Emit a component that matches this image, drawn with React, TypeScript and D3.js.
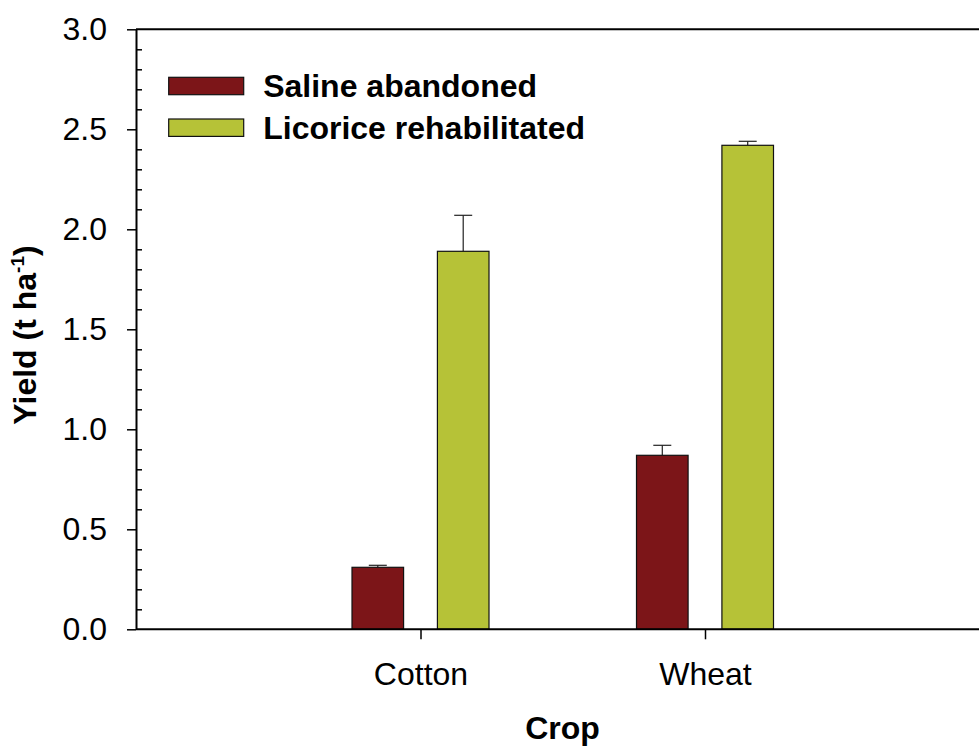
import React, { useEffect, useRef } from 'react';
import * as d3 from 'd3';

// chart data
const crops = ['Cotton', 'Wheat'];
const seriesNames = ['Saline abandoned', 'Licorice rehabilitated'];
const salineYield = [0.31, 0.87];
const salineErr = [0.01, 0.05];
const licoriceYield = [1.89, 2.42];
const licoriceErr = [0.18, 0.02];
const yTicks = [0, 0.5, 1.0, 1.5, 2.0, 2.5, 3.0];

const colors = ['#7C1518', '#B6C237'];
const FONT = '"Liberation Sans", Arial, Helvetica, sans-serif';

const W = 979;
const H = 747;
const margin = { top: 29.3, left: 136 };
const plotH = 600;
const plotW = 853.5;

export default function App() {
  const node = useRef<SVGSVGElement | null>(null);

  useEffect(() => {
    const svg = d3.select(node.current);
    svg.selectAll('*').remove();

    const rows = crops.map((c, i) => ({
      crop: c,
      values: [
        { key: seriesNames[0], value: salineYield[i], err: salineErr[i] },
        { key: seriesNames[1], value: licoriceYield[i], err: licoriceErr[i] },
      ],
    }));

    // scales
    const x = d3.scalePoint<string>().domain(crops).range([0, plotW]).padding(1);
    const inner = d3.scaleBand<string>().domain(seriesNames).range([-68.5, 68.5]).paddingInner(0.396);
    const y = d3.scaleLinear().domain([0, 3]).range([plotH, 0]);
    const z = d3.scaleOrdinal<string, string>().domain(seriesNames).range(colors);

    const g = svg.append('g').attr('transform', `translate(${margin.left},${margin.top})`);

    // bars
    const groups = g.selectAll('.grp').data(rows).enter().append('g')
      .attr('class', 'grp')
      .attr('transform', d => `translate(${x(d.crop)},0)`);

    const bars = groups.selectAll('.bar').data(d => d.values).enter().append('g').attr('class', 'bar');

    // error bars (upper only)
    bars.append('line')
      .attr('x1', d => inner(d.key)! + inner.bandwidth() / 2)
      .attr('x2', d => inner(d.key)! + inner.bandwidth() / 2)
      .attr('y1', d => y(d.value))
      .attr('y2', d => y(d.value + d.err))
      .attr('stroke', '#222').attr('stroke-width', 1.2);
    bars.append('line')
      .attr('x1', d => inner(d.key)! + inner.bandwidth() / 2 - 9)
      .attr('x2', d => inner(d.key)! + inner.bandwidth() / 2 + 9)
      .attr('y1', d => y(d.value + d.err))
      .attr('y2', d => y(d.value + d.err))
      .attr('stroke', '#222').attr('stroke-width', 1.2);

    bars.append('rect')
      .attr('x', d => inner(d.key)!)
      .attr('width', inner.bandwidth())
      .attr('y', d => y(d.value))
      .attr('height', d => plotH - y(d.value))
      .attr('fill', d => z(d.key))
      .attr('stroke', '#111').attr('stroke-width', 1.2);

    // frame top line
    g.append('line')
      .attr('x1', 0).attr('x2', plotW + 20)
      .attr('y1', 0).attr('y2', 0)
      .attr('stroke', '#000').attr('stroke-width', 2);

    // minor y ticks inside
    const minor = d3.range(0, 30).map(v => v / 10).filter(v => Math.round(v * 10) % 5 !== 0);
    g.append('g')
      .call(d3.axisLeft(y).tickValues(minor).tickSize(-6).tickFormat(() => ''))
      .call(a => a.select('.domain').remove())
      .selectAll('line').attr('stroke', '#000').attr('stroke-width', 1.5);

    // y axis
    const yAxis = g.append('g')
      .call(d3.axisLeft(y).tickValues(yTicks).tickSize(9).tickSizeOuter(0).tickPadding(20).tickFormat(d3.format('.1f')));
    yAxis.select('.domain').attr('stroke', '#000').attr('stroke-width', 2);
    yAxis.selectAll('line').attr('stroke', '#000').attr('stroke-width', 1.5);
    yAxis.selectAll('text').style('font-family', FONT).style('font-size', '32px').attr('fill', '#000');

    // x axis
    const xAxis = g.append('g')
      .attr('transform', `translate(0,${plotH})`)
      .call(d3.axisBottom(x).tickSize(10).tickSizeOuter(0).tickPadding(23));
    xAxis.select('.domain').attr('d', `M0,0H${plotW + 20}`).attr('stroke', '#000').attr('stroke-width', 2);
    xAxis.selectAll('line').attr('stroke', '#000').attr('stroke-width', 1.5);
    xAxis.selectAll('text').style('font-family', FONT).style('font-size', '32px').attr('fill', '#000');

    // axis titles
    svg.append('text')
      .attr('x', 562.5).attr('y', 739)
      .attr('text-anchor', 'middle')
      .style('font-family', FONT).style('font-size', '32px').style('font-weight', 'bold')
      .text('Crop');

    const yl = svg.append('text')
      .attr('transform', 'translate(36,335) rotate(-90)')
      .attr('text-anchor', 'middle')
      .style('font-family', FONT).style('font-size', '32px').style('font-weight', 'bold');
    yl.append('tspan').text('Yield (t ha');
    yl.append('tspan').attr('dy', -12).style('font-size', '19px').text('-1');
    yl.append('tspan').attr('dy', 12).text(')');

    // legend
    const legend = svg.selectAll('.legend').data(seriesNames).enter().append('g')
      .attr('class', 'legend')
      .attr('transform', (d, i) => `translate(168.7,${77.3 + i * 41.7})`);
    legend.append('rect')
      .attr('width', 75).attr('height', 17.4)
      .attr('fill', d => z(d)).attr('stroke', '#111').attr('stroke-width', 1.2);
    legend.append('text')
      .attr('x', 94.5).attr('y', 20)
      .style('font-family', FONT).style('font-size', '32px').style('font-weight', 'bold')
      .text(d => d);
  }, []);

  return (
    <svg ref={node} width={W} height={H}
      style={{ position: 'absolute', left: 0, top: 0, background: '#fff' }} />
  );
}
